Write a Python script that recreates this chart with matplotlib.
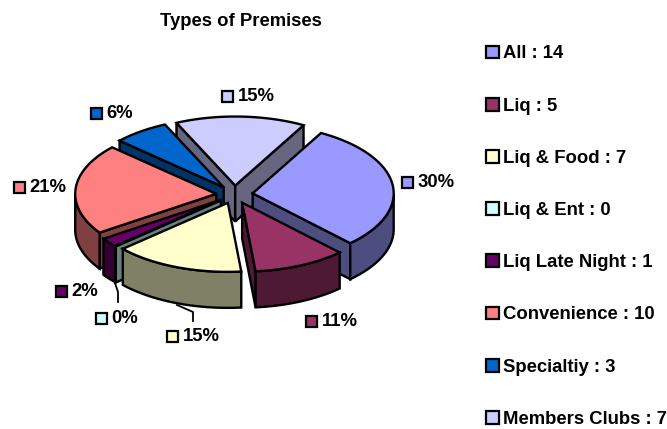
import numpy as np
import matplotlib
matplotlib.use("Agg")
import matplotlib.pyplot as plt
from matplotlib.patches import Patch, Rectangle

plt.rcParams['font.family'] = ['Liberation Sans', 'DejaVu Sans']
plt.rcParams['font.weight'] = 'bold'

categories = ["All", "Liq", "Liq & Food", "Liq & Ent", "Liq Late Night",
              "Convenience", "Specialtiy", "Members Clubs"]
values = [14, 5, 7, 0, 1, 10, 3, 7]
top_colors = ["#9999FF", "#993366", "#FFFFCC", "#CCFFFF", "#660066",
              "#FF8080", "#0066CC", "#CCCCFF"]
side_colors = ["#4D4D80", "#4D1933", "#808066", "#668080", "#330033",
               "#804040", "#003366", "#666680"]

CX, CY, RX, RY, DEPTH, EXPLODE = 234.5, 194.5, 141.0, 69.0, 36.0, 0.13
START = 29.0
LW = 1.7
FS = 13.3

fig = plt.figure(figsize=(6.67, 4.29), dpi=100)
ax = fig.add_axes([0, 0, 1, 1])
ax.set_xlim(0, 667)
ax.set_ylim(429, 0)
ax.axis('off')


def pt(theta, r=1.0):
    t = np.radians(theta)
    return r * RX * np.sin(t), -r * RY * np.cos(t)


def poly(xy, color, z):
    xy = np.asarray(xy)
    ax.fill(xy[:, 0], xy[:, 1], facecolor=color, edgecolor='black', linewidth=LW,
            joinstyle='miter', zorder=z)


total = sum(values)
sweeps = [v / total * 360 for v in values]
starts = START + np.concatenate([[0], np.cumsum(sweeps)[:-1]])
mids = starts + np.array(sweeps) / 2
order = np.argsort(-np.cos(np.radians(mids)), kind='stable')

z = 2
for i in order:
    a0, a1 = starts[i], starts[i] + sweeps[i]
    ox, oy = pt(mids[i], EXPLODE)
    ax0, ay0 = CX + ox, CY + oy

    def edge(theta):
        ex, ey = pt(theta)
        return [(ax0, ay0), (ax0 + ex, ay0 + ey),
                (ax0 + ex, ay0 + ey + DEPTH), (ax0, ay0 + DEPTH)]

    # radial faces that look towards the viewer
    if np.sin(np.radians(a0)) < 0:
        poly(edge(a0), side_colors[i], z); z += 1
    if np.sin(np.radians(a1)) > 0:
        poly(edge(a1), side_colors[i], z); z += 1

    # curved outer face: front half of the rim only
    for lo, hi in ((90, 270), (450, 630)):
        f0, f1 = max(a0, lo), min(a1, hi)
        if f1 > f0:
            th = np.linspace(f0, f1, 60)
            ex, ey = pt(th)
            rim = np.c_[ax0 + ex, ay0 + ey]
            poly(np.vstack([rim, rim[::-1] + [0, DEPTH]]), side_colors[i], z); z += 1

    # top face
    if sweeps[i] > 0:
        th = np.linspace(a0, a1, 80)
        ex, ey = pt(th)
        poly(np.vstack([[ax0, ay0], np.c_[ax0 + ex, ay0 + ey]]), top_colors[i], z); z += 1

# leader lines
ax.plot([115, 118, 118], [283, 292, 302], color='black', lw=1.3, zorder=1)
ax.plot([177, 193, 193], [305, 312, 321], color='black', lw=1.3, zorder=1)

# data labels
label_pos = [(407, 182), (311, 321), (172, 336), (101, 318),
             (61, 291), (19, 187), (96, 113), (227, 96)]
for (sx, sy), v, c in zip(label_pos, values, top_colors):
    ax.add_patch(Rectangle((sx - 5.5, sy - 5.5), 11.5, 11.5, facecolor=c,
                           edgecolor='black', linewidth=1.6, zorder=200))
    ax.text(sx + 10.5, sy + 0.5, f"{round(v / total * 100)}%", fontsize=FS,
            fontweight='bold', va='center', ha='left', color='black', zorder=200)

ax.text(241, 21, "Types of Premises", fontsize=FS, fontweight='bold',
        ha='center', va='center', color='black')

handles = [Patch(facecolor=c, edgecolor='black', linewidth=1.6,
                 label=f"{n} : {v}")
           for c, n, v in zip(top_colors, categories, values)]
ax.legend(handles=handles, loc='upper left', bbox_to_anchor=(486 / 667, 1 - 45.5 / 429),
          bbox_transform=fig.transFigure, frameon=False, fontsize=FS,
          labelspacing=1.905, handlelength=0.68, handleheight=0.68,
          handletextpad=0.26, borderpad=0, borderaxespad=0)

fig.savefig("out.png", dpi=100)
